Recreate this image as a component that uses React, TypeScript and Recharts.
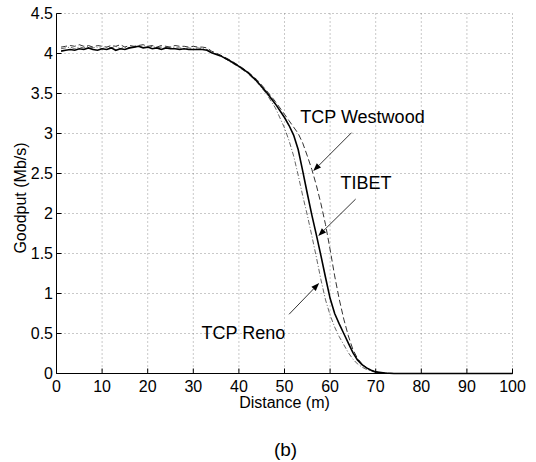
import { LineChart, Line, XAxis, YAxis, CartesianGrid, ReferenceLine, ReferenceDot } from 'recharts';

// distance (m) sample points
const distance = [
  1, 2, 3, 4, 5, 6, 7, 8, 9, 10, 11, 12, 13, 14, 15, 16, 17, 18, 19, 20, 21, 22, 23, 24, 25, 26, 27, 28, 29, 30, 31, 32, 33,
  34, 36, 38, 40, 42, 44, 46, 48,
  50, 51, 52, 53, 54, 55, 56, 57, 58, 59, 60, 61, 62, 63, 64, 65, 66, 67, 68, 69, 70,
  72, 74, 76, 80, 90, 100,
];

// goodput (Mb/s)
const tibet = [
  4.03, 4.04, 4.05, 4.04, 4.06, 4.05, 4.07, 4.05, 4.04, 4.06, 4.05, 4.07, 4.04, 4.06, 4.05, 4.07, 4.08, 4.09, 4.07, 4.08, 4.06, 4.07, 4.05, 4.07, 4.06, 4.06, 4.05, 4.06, 4.05, 4.05, 4.05, 4.05, 4.04,
  4.01, 3.97, 3.91, 3.84, 3.76, 3.65, 3.52, 3.37,
  3.2, 3.1, 2.98, 2.8, 2.53, 2.25, 1.98, 1.73, 1.47, 1.2, 0.94, 0.75, 0.62, 0.5, 0.38, 0.26, 0.17, 0.11, 0.07, 0.04, 0.02,
  0.006, 0, 0, 0, 0, 0,
];

const westwood = [
  4.08, 4.09, 4.1, 4.09, 4.11, 4.09, 4.1, 4.08, 4.1, 4.09, 4.08, 4.1, 4.09, 4.11, 4.08, 4.1, 4.09, 4.1, 4.11, 4.09, 4.1, 4.08, 4.1, 4.09, 4.08, 4.1, 4.09, 4.09, 4.08, 4.09, 4.08, 4.08, 4.07,
  4.03, 3.98, 3.92, 3.85, 3.77, 3.67, 3.54, 3.4,
  3.24, 3.16, 3.08, 3.0, 2.88, 2.72, 2.55, 2.35, 2.12, 1.86, 1.55, 1.22, 0.93, 0.68, 0.47, 0.3, 0.19, 0.12, 0.07, 0.04, 0.02,
  0.005, 0, 0, 0, 0, 0,
];

const reno = [
  4.06, 4.07, 4.08, 4.06, 4.08, 4.07, 4.09, 4.07, 4.08, 4.06, 4.08, 4.07, 4.09, 4.06, 4.08, 4.07, 4.08, 4.09, 4.08, 4.07, 4.09, 4.07, 4.08, 4.06, 4.08, 4.07, 4.07, 4.06, 4.07, 4.06, 4.07, 4.06, 4.05,
  4.02, 3.97, 3.9, 3.83, 3.75, 3.64, 3.5, 3.32,
  3.07, 2.91, 2.72, 2.48, 2.22, 1.98, 1.72, 1.45, 1.17, 0.92, 0.73, 0.58, 0.46, 0.36, 0.26, 0.18, 0.12, 0.08, 0.05, 0.03, 0.015,
  0.004, 0, 0, 0, 0, 0,
];

const xTicks = [0, 10, 20, 30, 40, 50, 60, 70, 80, 90, 100];
const yTicks = [0, 0.5, 1, 1.5, 2, 2.5, 3, 3.5, 4, 4.5];

// annotation text positions and arrows, in data units
const notes = [
  { text: 'TCP Westwood', x: 67.1, y: 3.21, from: [64.7, 3.01], to: [56.3, 2.53] },
  { text: 'TIBET', x: 67.9, y: 2.39, from: [65.6, 2.18], to: [57.4, 1.72] },
  { text: 'TCP Reno', x: 41, y: 0.51, from: [51, 0.74], to: [57.6, 1.13] },
];

const rows = distance.map((d, i) => ({ distance: d, tibet: tibet[i], westwood: westwood[i], reno: reno[i] }));

const FONT = '"Liberation Sans", Arial, Helvetica, sans-serif';

function Arrow(props: any) {
  const { x1, y1, x2, y2 } = props;
  const a = Math.atan2(y2 - y1, x2 - x1);
  const len = 8;
  const w = 3;
  const bx = x2 - len * Math.cos(a);
  const by = y2 - len * Math.sin(a);
  const p1 = `${bx - w * Math.sin(a)},${by + w * Math.cos(a)}`;
  const p2 = `${bx + w * Math.sin(a)},${by - w * Math.cos(a)}`;
  return (
    <g>
      <line x1={x1} y1={y1} x2={bx} y2={by} stroke="#000" strokeWidth={0.8} />
      <polygon points={`${x2},${y2} ${p1} ${p2}`} fill="#000" />
    </g>
  );
}

export default function App() {
  return (
    <div style={{ position: 'absolute', left: 0, top: 0, width: 536, height: 462, background: '#fff', fontFamily: FONT }}>
      <LineChart
        width={536}
        height={462}
        data={rows}
        margin={{ top: 13.5, right: 23.5, left: 0, bottom: 58.5 }}
        style={{ fontFamily: FONT }}
      >
        <CartesianGrid stroke="#777" strokeDasharray="1 3" strokeWidth={0.8} />
        <XAxis
          dataKey="distance"
          type="number"
          domain={[0, 100]}
          ticks={xTicks}
          height={30}
          axisLine={{ stroke: '#000' }}
          tickLine={{ stroke: '#000' }}
          tickSize={-5}
          tickMargin={12.5}
          tick={{ fill: '#000', fontSize: 16 }}
        />
        <XAxis
          xAxisId="top"
          orientation="top"
          type="number"
          domain={[0, 100]}
          ticks={xTicks}
          height={0}
          axisLine={{ stroke: '#000' }}
          tickLine={{ stroke: '#000' }}
          tickSize={-5}
          tick={false}
        />
        <YAxis
          type="number"
          domain={[0, 4.5]}
          ticks={yTicks}
          width={56.5}
          axisLine={{ stroke: '#000' }}
          tickLine={{ stroke: '#000' }}
          tickSize={-5}
          tickMargin={8.5}
          tick={{ fill: '#000', fontSize: 16 }}
        />
        <YAxis
          yAxisId="right"
          orientation="right"
          type="number"
          domain={[0, 4.5]}
          ticks={yTicks}
          width={0}
          axisLine={{ stroke: '#000' }}
          tickLine={{ stroke: '#000' }}
          tickSize={-5}
          tick={false}
        />
        <Line type="linear" dataKey="reno" stroke="#666" strokeWidth={1} strokeDasharray="5 2 1 2" dot={false} isAnimationActive={false} />
        <Line type="linear" dataKey="westwood" stroke="#333" strokeWidth={1} strokeDasharray="6 3" dot={false} isAnimationActive={false} />
        <Line type="linear" dataKey="tibet" stroke="#000" strokeWidth={1.6} dot={false} isAnimationActive={false} />
        {notes.map((n) => (
          <ReferenceLine
            key={`arrow-${n.text}`}
            segment={[{ x: n.from[0], y: n.from[1] }, { x: n.to[0], y: n.to[1] }]}
            shape={Arrow}
          />
        ))}
        {notes.map((n) => (
          <ReferenceDot
            key={`note-${n.text}`}
            x={n.x}
            y={n.y}
            r={0}
            fill="none"
            stroke="none"
            label={{ value: n.text, position: 'center', fill: '#000', fontSize: 18 }}
          />
        ))}
      </LineChart>
      <div style={{ position: 'absolute', left: 284.5, top: 403, transform: 'translate(-50%, -50%)', fontSize: 16, whiteSpace: 'nowrap' }}>
        Distance (m)
      </div>
      <div style={{ position: 'absolute', left: 285.5, top: 450, transform: 'translate(-50%, -50%)', fontSize: 19, whiteSpace: 'nowrap' }}>
        (b)
      </div>
      <div style={{ position: 'absolute', left: 21, top: 198, transform: 'translate(-50%, -50%) rotate(-90deg)', fontSize: 16, whiteSpace: 'nowrap' }}>
        Goodput (Mb/s)
      </div>
    </div>
  );
}
